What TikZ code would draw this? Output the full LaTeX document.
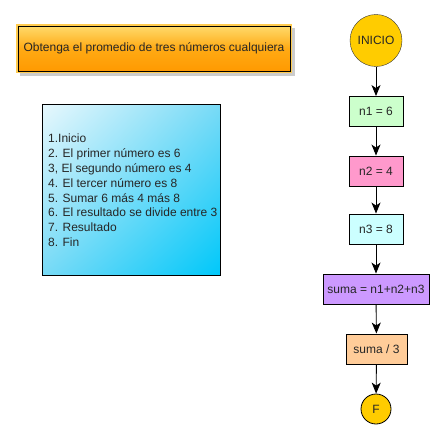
\documentclass[tikz,border=0pt]{standalone}
\usepackage{fontspec}
\setmainfont{Liberation Sans}
\usetikzlibrary{arrows.meta,shadings}
\definecolor{gold}{HTML}{FFCC00}
\definecolor{cg}{HTML}{CCFFCC}
\definecolor{cp}{HTML}{FF99CC}
\definecolor{cc}{HTML}{CCFFFF}
\definecolor{cv}{HTML}{CC99FF}
\definecolor{co}{HTML}{FFCC99}
\definecolor{ttop}{HTML}{FFDC6E}
\definecolor{tmid}{HTML}{FFAA14}
\definecolor{tbot}{HTML}{FF9900}
\definecolor{tedge}{HTML}{FFCC50}
\definecolor{bul}{HTML}{E8F8FD}
\definecolor{bmid}{HTML}{78DAF6}
\definecolor{blr}{HTML}{00C8FA}
\begin{document}
\begin{tikzpicture}[x=1pt,y=-1pt,
  every node/.style={font=\fontsize{12}{14}\selectfont, text=black!85},
  proc/.style={draw=black, line width=0.9pt, minimum height=30pt, inner sep=0pt},
  term/.style={draw=black!80, circle, fill=gold, inner sep=0pt},
  flow/.style={-{Stealth[length=11pt,width=9pt,inset=3pt]}, line width=0.9pt}]
\useasboundingbox (0,0) rectangle (444,439);
% title
\fill[black!20] (20,28) rectangle (295,76);
\shade[top color=ttop, bottom color=tbot, middle color=tmid]
  (17,25) rectangle (291,72);
\draw[draw=tedge, line width=1.2pt] (17,25) rectangle (291,72);
\draw[black, line width=0.8pt] (18,26) rectangle (290,71);
\node (title) at (154,48.5) {Obtenga el promedio de tres números cualquiera};
% text box
\shade[upper left=bul, lower right=blr, upper right=bmid, lower left=bmid]
  (42,104) rectangle (220,275);
\draw[black, line width=0.8pt] (42,104) rectangle (220,275);
\node[anchor=north west, align=left, inner sep=0pt, font=\fontsize{12}{14.8}\selectfont] (steps) at (48,134)
 {1.Inicio\\2. El primer número es 6\\3, El segundo número es 4\\4. El tercer número es 8\\5. Sumar 6 más 4 más 8\\6. El resultado se divide entre 3\\7. Resultado\\8. Fin};
% flowchart
\node[term, minimum size=52pt] (ini) at (376,40.5) {INICIO};
\node[proc, fill=cg, minimum width=54pt] (n1) at (376,111.5) {n1 = 6};
\node[proc, fill=cp, minimum width=54pt] (n2) at (376,171) {n2 = 4};
\node[proc, fill=cc, minimum width=54pt] (n3) at (376,229) {n3 = 8};
\node[proc, fill=cv, minimum width=106pt] (suma) at (376,289) {suma = n1+n2+n3};
\node[proc, fill=co, minimum width=61pt] (div) at (376.5,349) {suma / 3};
\node[term, draw=black, line width=0.8pt, minimum size=30pt] (fin) at (376,409) {F};
\draw[flow] (ini) -- (n1);
\draw[flow] (n1) -- (n2);
\draw[flow] (n2) -- (n3);
\draw[flow] (n3) -- (suma);
\draw[flow] (suma) -- (div);
\draw[flow] (div) -- (fin);
\end{tikzpicture}
\end{document}
